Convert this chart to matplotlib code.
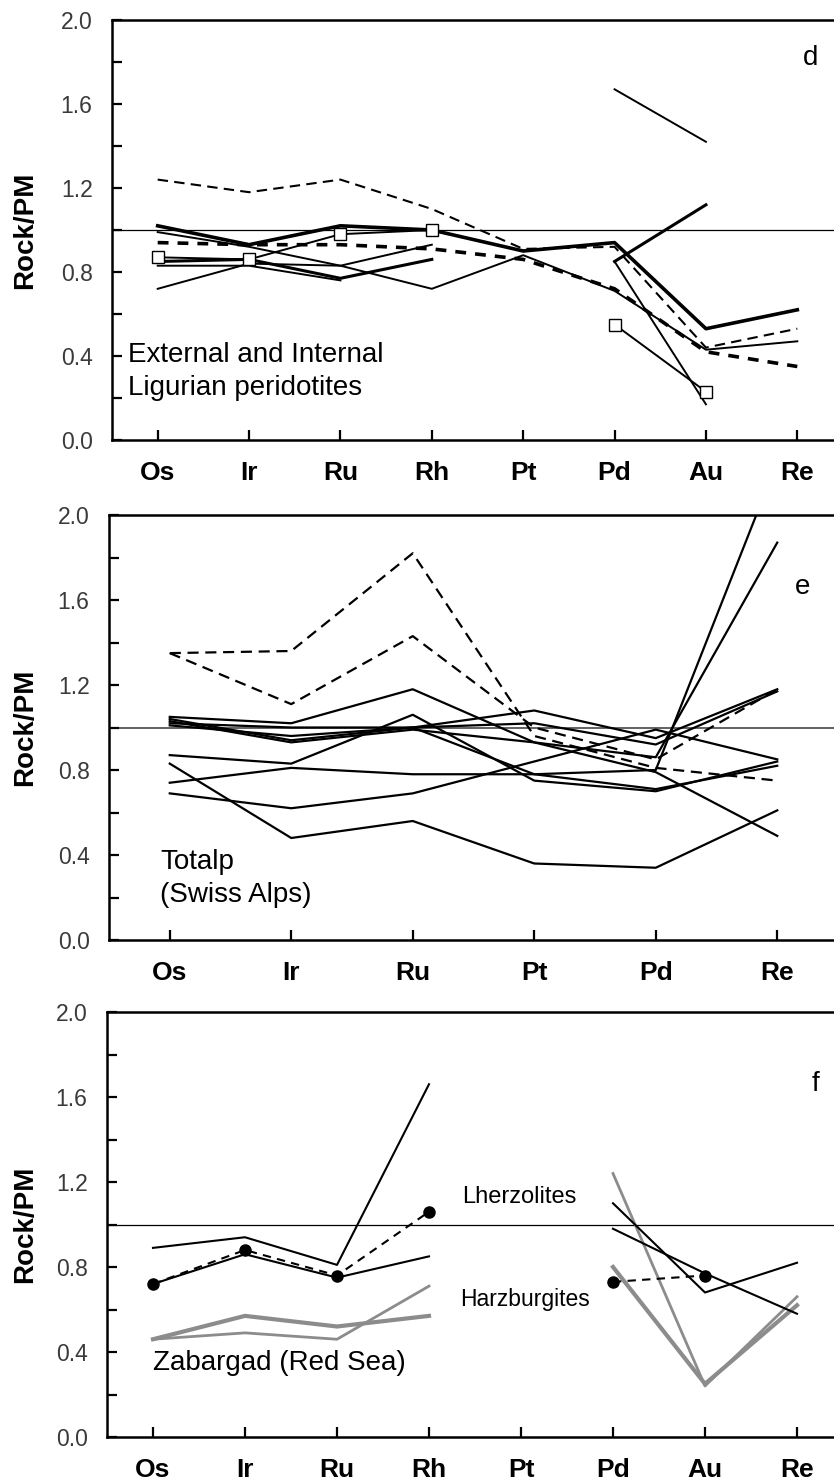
import numpy as np
import matplotlib
matplotlib.use("Agg")
import matplotlib.pyplot as plt
from matplotlib.ticker import MultipleLocator

plt.rcParams["font.family"] = ["Liberation Sans", "DejaVu Sans"]

nan = np.nan

# element order on the x axis
elements_d = ["Os", "Ir", "Ru", "Rh", "Pt", "Pd", "Au", "Re"]
elements_e = ["Os", "Ir", "Ru", "Pt", "Pd", "Re"]
elements_f = ["Os", "Ir", "Ru", "Rh", "Pt", "Pd", "Au", "Re"]

# panel d - External and Internal Ligurian peridotites
lig_thick = [1.02, 0.93, 1.02, 1.00, 0.90, 0.94, 0.53, 0.62]
lig_dash_thin = [1.24, 1.18, 1.24, 1.10, 0.91, 0.92, 0.44, 0.53]
lig_dash_thick = [0.94, 0.93, 0.93, 0.91, 0.86, 0.72, 0.42, 0.35]
lig_squares = [0.87, 0.86, 0.98, 1.00, nan, 0.55, 0.23, nan]
lig_a = [0.85, 0.86, 0.77, 0.86, nan, 0.85, 1.12, nan]
lig_b = [0.99, 0.92, 0.83, 0.93, nan, 0.85, 0.17, nan]
lig_c = [0.72, 0.84, 0.83, 0.72, 0.88, 0.71, 0.43, 0.47]
lig_d = [0.83, 0.83, 0.76, nan, nan, nan, nan, nan]
lig_e = [nan, nan, nan, nan, nan, 1.67, 1.42, nan]

# panel e - Totalp (Swiss Alps)
tot_dash1 = [1.35, 1.36, 1.82, 0.96, 0.81, 0.75]
tot_dash2 = [1.35, 1.11, 1.43, 1.00, 0.85, 1.18]
tot_1 = [1.05, 1.02, 1.18, 0.93, 0.79, 0.49]
tot_2 = [1.04, 0.94, 1.00, 1.08, 0.95, 1.18]
tot_3 = [1.03, 0.93, 0.99, 0.93, 0.86, 1.87]
tot_4 = [1.01, 0.96, 1.00, 0.78, 0.71, 0.82]
tot_5 = [0.87, 0.83, 1.06, 0.75, 0.70, 0.84]
tot_6 = [0.83, 0.48, 0.56, 0.36, 0.34, 0.61]
tot_7 = [0.74, 0.81, 0.78, 0.78, 0.80, 2.25]
tot_8 = [0.69, 0.62, 0.69, 0.84, 0.99, 0.85]
tot_9 = [1.02, 1.00, 1.00, 1.02, 0.92, 1.17]

# panel f - Zabargad (Red Sea)
zab_lherz1 = [0.89, 0.94, 0.81, 1.66, nan, 1.10, 0.68, 0.82]
zab_lherz2 = [0.72, 0.86, 0.75, 0.85, nan, 0.98, 0.77, 0.58]
zab_dots = [0.72, 0.88, 0.76, 1.06, nan, 0.73, 0.76, nan]
zab_harz1 = [0.46, 0.57, 0.52, 0.57, nan, 0.80, 0.25, 0.62]
zab_harz2 = [0.46, 0.49, 0.46, 0.71, nan, 1.24, 0.24, 0.66]

W, H = 834, 1483
TICK_COLOR = "#3a3a3a"


def setup_axes(fig, left, top, right, bottom, labels):
    ax = fig.add_axes([left / W, 1 - bottom / H, (right - left) / W, (bottom - top) / H])
    n = len(labels)
    ax.set_xlim(-0.5, n - 0.5)
    ax.set_ylim(0, 2.0)
    ax.set_xticks(range(n))
    ax.set_xticklabels(labels, fontsize=19, fontweight="bold")
    ax.yaxis.set_major_locator(MultipleLocator(0.4))
    ax.yaxis.set_minor_locator(MultipleLocator(0.2))
    ax.yaxis.set_major_formatter(plt.FuncFormatter(lambda v, p: f"{v:.1f}"))
    ax.tick_params(axis="y", which="both", direction="in", length=7, width=1.6,
                   labelsize=16.5, labelcolor=TICK_COLOR, pad=14)
    ax.tick_params(axis="x", direction="in", length=7, width=1.6, pad=15)
    ax.spines["right"].set_visible(False)
    for s in ["left", "bottom", "top"]:
        ax.spines[s].set_linewidth(1.8)
    ax.axhline(1.0, color="black", lw=0.9, zorder=1)
    fig.text(25 / W, 1 - (top + bottom) / 2 / H, "Rock/PM", rotation=90,
             fontsize=20, fontweight="bold", ha="center", va="center")
    return ax


def main():
    fig = plt.figure(figsize=(W / 100, H / 100), dpi=100)

    # ---- panel d
    ax = setup_axes(fig, 112, 20, 843, 440, elements_d)
    x = np.arange(len(elements_d))
    ax.plot(x, lig_dash_thin, color="black", lw=1.5, ls=(0, (5, 3)))
    ax.plot(x, lig_dash_thick, color="black", lw=2.6, ls=(0, (3, 2.5)))
    ax.plot(x, lig_thick, color="black", lw=2.6)
    ax.plot(x, lig_a, color="black", lw=2.2)
    ax.plot(x, lig_b, color="black", lw=1.4)
    ax.plot(x, lig_c, color="black", lw=1.4)
    ax.plot(x, lig_d, color="black", lw=1.4)
    ax.plot(x, lig_e, color="black", lw=1.4)
    ax.plot(x, lig_squares, color="black", lw=1.4, marker="s", ms=8,
            mfc="white", mec="black", mew=1.0)
    ax.text(7.15, 1.82, "d", fontsize=20, ha="center", va="center")
    ax.text(-0.32, 0.465, "External and Internal\nLigurian peridotites",
            fontsize=20, ha="left", va="top", linespacing=1.35)

    # ---- panel e
    ax = setup_axes(fig, 109, 515, 838, 940, elements_e)
    ax.lines[0].set_color("#555555")
    ax.lines[0].set_linewidth(1.3)
    x = np.arange(len(elements_e))
    for ys in [tot_dash1, tot_dash2]:
        ax.plot(x, ys, color="black", lw=1.6, ls=(0, (5, 3)))
    for ys in [tot_1, tot_2, tot_3, tot_4, tot_5, tot_6, tot_7, tot_8, tot_9]:
        ax.plot(x, ys, color="black", lw=1.6)
    ax.text(5.21, 1.66, "e", fontsize=20, ha="center", va="center")
    ax.text(-0.08, 0.43, "Totalp\n(Swiss Alps)", fontsize=20, ha="left",
            va="top", linespacing=1.35)

    # ---- panel f
    ax = setup_axes(fig, 107, 1012, 843, 1437, elements_f)
    x = np.arange(len(elements_f))
    ax.plot(x, zab_harz2, color="#8c8c8c", lw=2.0)
    ax.plot(x, zab_harz1, color="#8c8c8c", lw=3.0)
    ax.plot(x, zab_lherz1, color="black", lw=1.5)
    ax.plot(x, zab_lherz2, color="black", lw=1.5)
    ax.plot(x, zab_dots, color="black", lw=1.5, ls=(0, (4, 3)), marker="o", ms=8)
    ax.text(7.2, 1.66, "f", fontsize=20, ha="center", va="center")
    ax.text(3.36, 1.13, "Lherzolites", fontsize=17, ha="left", va="center")
    ax.text(3.34, 0.645, "Harzburgites", fontsize=16.5, ha="left", va="center")
    ax.text(0.0, 0.35, "Zabargad (Red Sea)", fontsize=20, ha="left", va="center")

    fig.savefig("out.png", dpi=100)


if __name__ == "__main__":
    main()
